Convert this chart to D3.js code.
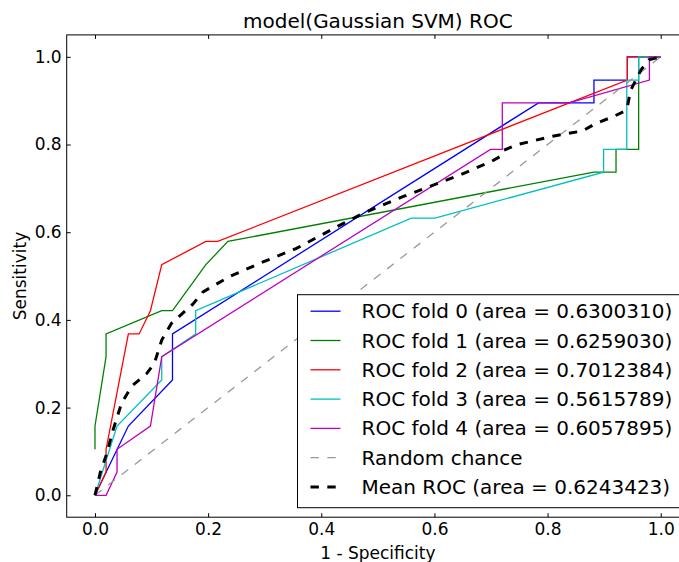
<!DOCTYPE html>
<html>
<head>
<meta charset="utf-8">
<script src="https://cdnjs.cloudflare.com/ajax/libs/d3/7.8.5/d3.min.js"></script>
<style>
  body { margin: 0; background: #fff; }
  text { font-family: "DejaVu Sans", sans-serif; fill: #000; }
</style>
</head>
<body>
<div id="graph"></div>
<script>

// ROC points [fpr, tpr] for each fold

var fold0 = [[0,0],[0.059,0.158],[0.137,0.263],[0.137,0.368],[0.784,0.895],[0.882,0.895],
  [0.882,0.947],[0.941,0.947],[0.941,1],[1,1]];
var fold1 = [[0,0.105],[0,0.158],[0.0196,0.316],[0.0196,0.368],[0.118,0.421],[0.137,0.421],
  [0.196,0.526],[0.235,0.579],[0.882,0.737],[0.921,0.737],[0.921,0.789],[0.961,0.789],[0.961,1],[1,1]];
var fold2 = [[0,0],[0.0196,0.053],[0.0196,0.105],[0.059,0.368],[0.078,0.368],[0.098,0.421],
  [0.118,0.526],[0.196,0.579],[0.217,0.579],[0.941,0.947],[0.941,1],[1,1]];
var fold3 = [[0,0],[0.039,0.158],[0.118,0.263],[0.118,0.316],[0.178,0.368],[0.178,0.421],
  [0.559,0.632],[0.601,0.632],[0.899,0.737],[0.899,0.789],[0.94,0.789],[0.94,0.947],
  [0.961,0.947],[0.961,1],[1,1]];
var fold4 = [[0,0],[0.0196,0],[0.039,0.053],[0.039,0.105],[0.098,0.158],[0.118,0.316],
  [0.699,0.789],[0.72,0.789],[0.72,0.895],[0.838,0.895],[0.98,0.947],[0.98,1],[1,1]];
var randomChance = [[0,0],[1,1]];
var meanRoc = [[0,0],[0.009,0.05],[0.021,0.096],[0.032,0.149],[0.047,0.21],[0.065,0.249],
  [0.091,0.277],[0.105,0.301],[0.118,0.354],[0.135,0.392],[0.173,0.436],[0.191,0.464],
  [0.238,0.499],[0.291,0.529],[0.356,0.563],[0.427,0.612],[0.474,0.643],[0.544,0.681],
  [0.591,0.704],[0.644,0.73],[0.70,0.761],[0.718,0.774],[0.723,0.787],[0.744,0.799],
  [0.809,0.819],[0.862,0.831],[0.885,0.848],[0.915,0.863],[0.935,0.875],[0.941,0.886],
  [0.947,0.924],[0.956,0.947],[0.965,0.970],[0.979,0.993],[1,1]];

var legendLabels = [
  'ROC fold 0 (area = 0.6300310)',
  'ROC fold 1 (area = 0.6259030)',
  'ROC fold 2 (area = 0.7012384)',
  'ROC fold 3 (area = 0.5615789)',
  'ROC fold 4 (area = 0.6057895)',
  'Random chance',
  'Mean ROC (area = 0.6243423)'
];
var ticks = [0, 0.2, 0.4, 0.6, 0.8, 1.0];

// line styles, same order as the legend
var styles = [
  { color: '#0000ff', width: 1.3, dash: null },
  { color: '#008000', width: 1.3, dash: null },
  { color: '#ff0000', width: 1.3, dash: null },
  { color: '#00bfbf', width: 1.3, dash: null },
  { color: '#bf00bf', width: 1.3, dash: null },
  { color: '#999999', width: 1.3, dash: '8.4,8.4' },
  { color: '#000000', width: 3, dash: '8.4,8.4' }
];
var series = [fold0, fold1, fold2, fold3, fold4, randomChance, meanRoc];

var svgWidth = 679;
var svgHeight = 562;
var plot = { left: 66.7, right: 689, top: 34.9, bottom: 517.2 };

var svg = d3.select('#graph').append('svg')
  .attr('width', svgWidth)
  .attr('height', svgHeight);

var x = d3.scaleLinear().domain([-0.05, 1.05]).range([plot.left, plot.right]);
var y = d3.scaleLinear().domain([-0.05, 1.05]).range([plot.bottom, plot.top]);

svg.append('clipPath').attr('id', 'clip')
  .append('rect')
  .attr('x', plot.left).attr('y', plot.top)
  .attr('width', plot.right - plot.left).attr('height', plot.bottom - plot.top);

// the curves
var line = d3.line().x(function (d) { return x(d[0]); }).y(function (d) { return y(d[1]); });

svg.append('g').attr('clip-path', 'url(#clip)')
  .selectAll('path')
  .data(series)
  .enter()
  .append('path')
  .attr('d', line)
  .attr('fill', 'none')
  .attr('stroke', function (d, i) { return styles[i].color; })
  .attr('stroke-width', function (d, i) { return styles[i].width; })
  .attr('stroke-dasharray', function (d, i) { return styles[i].dash; });

// axes, ticks pointing inward (classic matplotlib look)
function styleAxis(g) {
  g.select('.domain').remove();
  g.selectAll('.tick line').attr('stroke', '#000').attr('stroke-width', 1);
  g.selectAll('.tick text').style('font-size', '17px').attr('fill', '#000');
}

svg.append('g')
  .attr('transform', 'translate(0,' + plot.bottom + ')')
  .call(d3.axisBottom(x).tickValues(ticks).tickFormat(d3.format('.1f')).tickSize(-4).tickPadding(6))
  .call(styleAxis);

svg.append('g')
  .attr('transform', 'translate(0,' + plot.top + ')')
  .call(d3.axisTop(x).tickValues(ticks).tickFormat('').tickSize(-4))
  .call(styleAxis);

svg.append('g')
  .attr('transform', 'translate(' + plot.left + ',0)')
  .call(d3.axisLeft(y).tickValues(ticks).tickFormat(d3.format('.1f')).tickSize(-4).tickPadding(5))
  .call(styleAxis);

// axes frame
svg.append('rect')
  .attr('x', plot.left).attr('y', plot.top)
  .attr('width', plot.right - plot.left).attr('height', plot.bottom - plot.top)
  .attr('fill', 'none').attr('stroke', '#000').attr('stroke-width', 1);

// title and axis labels
var midX = (plot.left + plot.right) / 2;
svg.append('text').attr('x', midX).attr('y', 28)
  .attr('text-anchor', 'middle').style('font-size', '20px')
  .text('model(Gaussian SVM) ROC');

svg.append('text').attr('x', midX).attr('y', 559)
  .attr('text-anchor', 'middle').style('font-size', '17px')
  .text('1 - Specificity');

svg.append('text')
  .attr('transform', 'translate(26,' + (plot.top + plot.bottom) / 2 + ') rotate(-90)')
  .attr('text-anchor', 'middle').style('font-size', '17px')
  .text('Sensitivity');

// legend, lower right
var legendX = 297.5, legendY = 294.7, rowH = 29.3;
var legend = svg.append('g');
legend.append('rect')
  .attr('x', legendX).attr('y', legendY)
  .attr('width', 682 - legendX).attr('height', 213)
  .attr('fill', '#fff').attr('stroke', '#000').attr('stroke-width', 1);

var rows = legend.selectAll('g.row')
  .data(legendLabels)
  .enter()
  .append('g')
  .attr('transform', function (d, i) { return 'translate(0,' + (legendY + 16.5 + i * rowH) + ')'; });

rows.append('line')
  .attr('x1', 310.5).attr('x2', 340.5)
  .attr('stroke', function (d, i) { return styles[i].color; })
  .attr('stroke-width', function (d, i) { return styles[i].width; })
  .attr('stroke-dasharray', function (d, i) { return styles[i].dash; });

rows.append('text')
  .attr('x', 361.5).attr('y', 7)
  .style('font-size', '20px')
  .text(function (d) { return d; });

</script>
</body>
</html>
